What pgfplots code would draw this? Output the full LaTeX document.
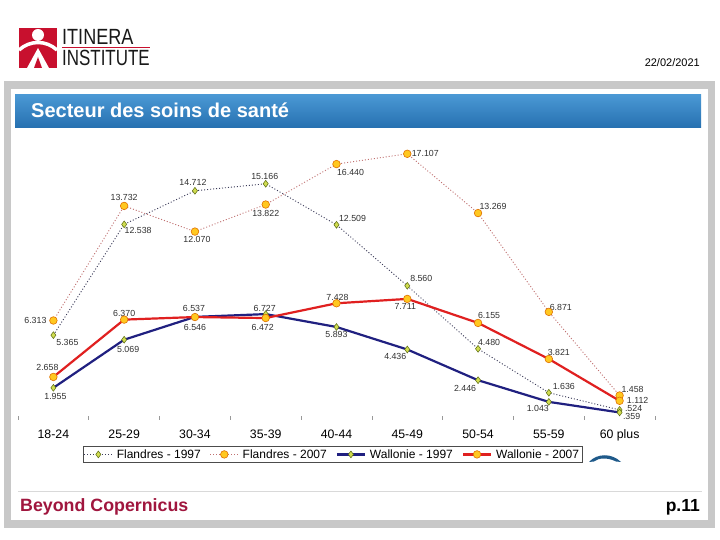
\documentclass[border=0pt]{standalone}
\usepackage{fontspec}
\setmainfont{Liberation Sans}
\usepackage{pgfplots}
\pgfplotsset{compat=1.18}
\definecolor{fgray}{HTML}{3C3C5A}
\definecolor{fpink}{HTML}{C07070}
\definecolor{wnavy}{HTML}{202080}
\definecolor{wred}{HTML}{E02020}
\definecolor{mgreen}{HTML}{D0DC50}
\definecolor{mgreenedge}{HTML}{5A6A10}
\definecolor{morange}{HTML}{FFC820}
\definecolor{morangeedge}{HTML}{E07000}
\definecolor{framegray}{HTML}{C8C8C8}
\definecolor{bartop}{HTML}{4A98D4}
\definecolor{barbot}{HTML}{2670B0}
\definecolor{crimson}{HTML}{A0163E}
\definecolor{logored}{HTML}{C8102E}
\definecolor{swoosh}{HTML}{1F5A8A}
\definecolor{lblgray}{HTML}{303030}
\tikzset{lbl/.style={font=\fontsize{8.8}{8.8}\selectfont, text=lblgray, inner sep=0, anchor=center}}
\newcommand{\lab}[5]{\node[lbl, xshift=#3pt, yshift=#4pt] at (axis cs:#1,#2) {#5};}
\begin{document}
\begin{tikzpicture}[x=1pt,y=1pt]
\useasboundingbox (0,0) rectangle (720,540);
\fill[white] (0,0) rectangle (720,540);
% frame
\fill[framegray] (4,12) rectangle (715,459);
\fill[white] (11,20) rectangle (708,451);
% title bar
\shade[top color=bartop, bottom color=barbot] (15,412) rectangle (701,445);
\node[anchor=base west, inner sep=0, text=white, font=\fontsize{20}{20}\selectfont\bfseries] at (31,422) {Secteur des soins de santé};
% footer
\draw[gray!30, line width=1pt] (18,48) -- (702,48);
\node[anchor=base west, inner sep=0, text=crimson, font=\fontsize{17.8}{17.8}\selectfont\bfseries] at (20,28.5) {Beyond Copernicus};
\node[anchor=base east, inner sep=0, font=\fontsize{17.5}{17.5}\selectfont\bfseries] at (700,28.5) {p.11};
% date
\node[anchor=base east, inner sep=0, font=\fontsize{11}{11}\selectfont] at (700,473) {22/02/2021};
% logo
\fill[logored] (19,472) rectangle (57,512);
\fill[white] (38,505) circle (6);
\draw[white, line width=3.5pt] (19,490) .. controls (30,500) and (46,500) .. (57,490);
\fill[white] (38,492) -- (27,472) -- (49,472) -- cycle;
\fill[logored] (38,483) -- (34,472) -- (42,472) -- cycle;
\node[anchor=base west, inner sep=0, text=black!90] at (62,495) {\scalebox{0.82}[1]{\fontsize{22}{22}\selectfont ITINERA}};
\draw[logored, line width=0.8pt] (62,492.5) -- (150,492.5);
\node[anchor=base west, inner sep=0, text=black!90] at (62,474) {\scalebox{0.77}[1]{\fontsize{22}{22}\selectfont INSTITUTE}};
% swoosh (cut-off logo fragment)
\fill[swoosh] (589,78) .. controls (597,87) and (612,87) .. (621,78) -- (616,78.5) .. controls (608,82.5) and (599,82.5) .. (594,78.5) -- cycle;
\begin{axis}[
  at={(18pt,122pt)}, anchor=south west, scale only axis,
  width=637pt, height=278pt,
  xmin=-0.5, xmax=8.5, ymin=0, ymax=18,
  axis line style={draw=none},
  ytick=\empty,
  xtick={0,1,2,3,4,5,6,7,8},
  xticklabels={18-24,25-29,30-34,35-39,40-44,45-49,50-54,55-59,60 plus},
  xtick pos=left,
  major tick length=0pt,
  extra x ticks={-0.5,0.5,1.5,2.5,3.5,4.5,5.5,6.5,7.5,8.5},
  extra x tick labels={},
  extra x tick style={major tick length=4pt, tick align=center, major tick style={draw=gray!80, line width=0.7pt}},
  ticklabel style={font=\fontsize{12.3}{12.3}\selectfont},
  xticklabel style={yshift=-8pt},
  clip=false,
  legend columns=4,
  legend style={at={(0.4937,-0.131)}, anchor=center, draw=black!70, line width=0.5pt,
    font=\fontsize{12}{12}\selectfont, inner sep=1pt, nodes={inner sep=2pt},
    /tikz/every even column/.append style={column sep=7pt},
    /tikz/every odd column/.append style={column sep=2pt}},
  legend image code/.code={\draw[mark repeat=2,mark phase=2,#1] plot coordinates {(0pt,0pt) (14pt,0pt) (28pt,0pt)};},
]
\addplot[draw=fgray, line width=0.9pt, dash pattern=on 1pt off 2pt, mark=diamond*, mark size=3.4pt,
  mark options={solid, fill=mgreen, draw=mgreenedge, line width=0.5pt}]
  coordinates {(0,5.365) (1,12.538) (2,14.712) (3,15.166) (4,12.509) (5,8.560) (6,4.480) (7,1.636) (8,0.524)};
\addlegendentry{Flandres - 1997}
\addplot[draw=fpink, line width=0.9pt, dash pattern=on 1pt off 2pt, mark=*, mark size=3.8pt,
  mark options={solid, fill=morange, draw=morangeedge, line width=0.6pt}]
  coordinates {(0,6.313) (1,13.732) (2,12.070) (3,13.822) (4,16.440) (5,17.107) (6,13.269) (7,6.871) (8,1.458)};
\addlegendentry{Flandres - 2007}
\addplot[draw=wnavy, line width=2.2pt, mark=diamond*, mark size=3.4pt,
  mark options={solid, fill=mgreen, draw=mgreenedge, line width=0.5pt}]
  coordinates {(0,1.955) (1,5.069) (2,6.546) (3,6.727) (4,5.893) (5,4.436) (6,2.446) (7,1.043) (8,0.359)};
\addlegendentry{Wallonie - 1997}
\addplot[draw=wred, line width=2.2pt, mark=*, mark size=3.8pt,
  mark options={solid, fill=morange, draw=morangeedge, line width=0.6pt}]
  coordinates {(0,2.658) (1,6.370) (2,6.537) (3,6.472) (4,7.428) (5,7.711) (6,6.155) (7,3.821) (8,1.112)};
\addlegendentry{Wallonie - 2007}
% labels Flandres 1997
\lab{0}{5.365}{14}{-7}{5.365}
\lab{1}{12.538}{14}{-6}{12.538}
\lab{2}{14.712}{-2}{8}{14.712}
\lab{3}{15.166}{-1}{7}{15.166}
\lab{4}{12.509}{16}{6}{12.509}
\lab{5}{8.560}{14}{7}{8.560}
\lab{6}{4.480}{11}{6}{4.480}
\lab{7}{1.636}{15}{6}{1.636}
\lab{8}{0.524}{14}{1.5}{.524}
% labels Flandres 2007
\lab{0}{6.313}{-18}{0}{6.313}
\lab{1}{13.732}{0}{8}{13.732}
\lab{2}{12.070}{2}{-8}{12.070}
\lab{3}{13.822}{0}{-9}{13.822}
\lab{4}{16.440}{14}{-8}{16.440}
\lab{5}{17.107}{18}{0}{17.107}
\lab{6}{13.269}{15}{7}{13.269}
\lab{7}{6.871}{12}{4}{6.871}
\lab{8}{1.458}{13}{6}{1.458}
% labels Wallonie 1997
\lab{0}{1.955}{2}{-9}{1.955}
\lab{1}{5.069}{4}{-10}{5.069}
\lab{2}{6.546}{0}{-11}{6.546}
\lab{3}{6.727}{-1}{6}{6.727}
\lab{4}{5.893}{0}{-7}{5.893}
\lab{5}{4.436}{-12}{-7}{4.436}
\lab{6}{2.446}{-13}{-8}{2.446}
\lab{7}{1.043}{-11}{-7}{1.043}
\lab{8}{0.359}{12}{-4}{.359}
% labels Wallonie 2007
\lab{0}{2.658}{-6}{9}{2.658}
\lab{1}{6.370}{0}{6}{6.370}
\lab{2}{6.537}{-1}{9}{6.537}
\lab{3}{6.472}{-3}{-9}{6.472}
\lab{4}{7.428}{1}{6}{7.428}
\lab{5}{7.711}{-2}{-8}{7.711}
\lab{6}{6.155}{11}{7}{6.155}
\lab{7}{3.821}{10}{7}{3.821}
\lab{8}{1.112}{18}{0}{1.112}
\end{axis}
\end{tikzpicture}
\end{document}
